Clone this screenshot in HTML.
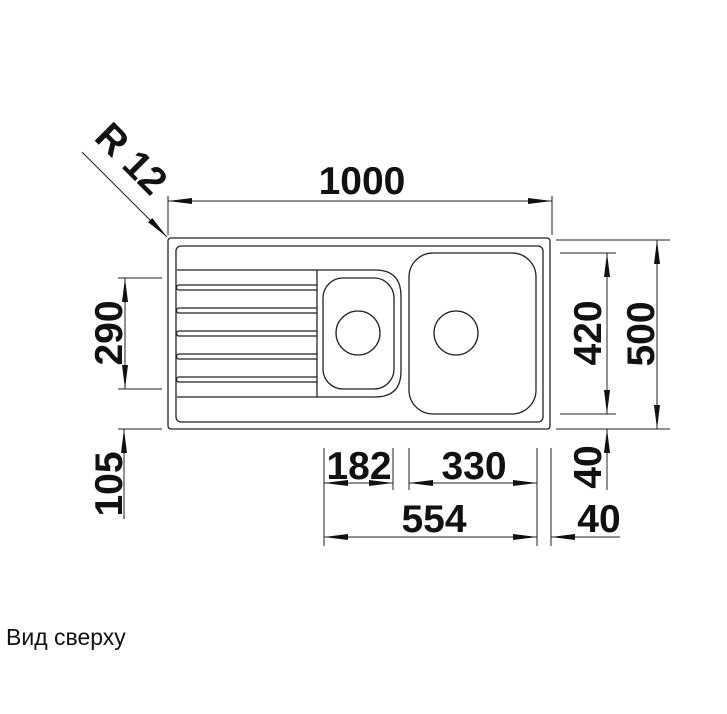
<!DOCTYPE html>
<html><head><meta charset="utf-8"><style>
html,body{margin:0;padding:0;background:#fff;}
svg{display:block;}
text{font-family:"Liberation Sans",sans-serif;}
.d{font-weight:bold;font-size:39px;fill:#111;}
</style></head><body>
<svg width="727" height="714" viewBox="0 0 727 714" xmlns="http://www.w3.org/2000/svg">
<defs>
<marker id="a" viewBox="0 0 24 8" refX="24" refY="4" markerWidth="24" markerHeight="8" markerUnits="userSpaceOnUse" orient="auto-start-reverse">
<path d="M0,1 L24,4 L0,7 z" fill="#111"/></marker>
</defs>
<g fill="none" stroke="#222" stroke-width="1.3">
<rect x="168" y="238" width="382" height="191" rx="3"/>
<rect x="176" y="246" width="367" height="176" rx="5"/>
<path d="M177,270 H375 Q401,270 401,296 V371 Q401,397 375,397 H177"/>
<line x1="317" y1="270" x2="317" y2="397"/>
<rect x="323" y="278" width="71" height="111" rx="20"/>
<circle cx="358" cy="333" r="22"/>
<rect x="409" y="253" width="127" height="161" rx="24"/>
<circle cx="456" cy="333" r="22"/>
<path d="M317,285 H179 a2.5,2.5 0 0 0 0,5 H317"/>
<path d="M317,308 H179 a2.5,2.5 0 0 0 0,5 H317"/>
<path d="M317,331 H179 a2.5,2.5 0 0 0 0,5 H317"/>
<path d="M317,354 H179 a2.5,2.5 0 0 0 0,5 H317"/>
<path d="M317,377 H179 a2.5,2.5 0 0 0 0,5 H317"/>
</g>
<g fill="none" stroke="#222" stroke-width="1">
<line x1="168" y1="196" x2="168" y2="235"/>
<line x1="552" y1="196" x2="552" y2="235"/>
<line x1="168" y1="201" x2="552" y2="201" marker-start="url(#a)" marker-end="url(#a)"/>
<line x1="82" y1="152" x2="167" y2="237" marker-end="url(#a)"/>
<line x1="118" y1="278" x2="162" y2="278"/>
<line x1="118" y1="389" x2="162" y2="389"/>
<line x1="118" y1="429" x2="162" y2="429"/>
<line x1="125" y1="278" x2="125" y2="389" marker-start="url(#a)" marker-end="url(#a)"/>
<line x1="124" y1="519" x2="124" y2="429" marker-end="url(#a)"/>
<line x1="556" y1="240" x2="670" y2="240"/>
<line x1="556" y1="429" x2="670" y2="429"/>
<line x1="560" y1="253" x2="616" y2="253"/>
<line x1="560" y1="414" x2="616" y2="414"/>
<line x1="657" y1="240" x2="657" y2="429" marker-start="url(#a)" marker-end="url(#a)"/>
<line x1="607" y1="253" x2="607" y2="414" marker-start="url(#a)" marker-end="url(#a)"/>
<line x1="607" y1="490" x2="607" y2="429" marker-end="url(#a)"/>
<line x1="324" y1="448" x2="324" y2="546"/>
<line x1="393" y1="448" x2="393" y2="490"/>
<line x1="409" y1="448" x2="409" y2="490"/>
<line x1="537" y1="448" x2="537" y2="546"/>
<line x1="551" y1="448" x2="551" y2="546"/>
<line x1="324" y1="483" x2="393" y2="483" marker-start="url(#a)" marker-end="url(#a)"/>
<line x1="409" y1="483" x2="537" y2="483" marker-start="url(#a)" marker-end="url(#a)"/>
<line x1="324" y1="537" x2="537" y2="537" marker-start="url(#a)" marker-end="url(#a)"/>
<line x1="620" y1="537" x2="551" y2="537" marker-end="url(#a)"/>
</g>
<text class="d" x="362" y="194" text-anchor="middle">1000</text>
<text class="d" transform="translate(122,168) rotate(45)" text-anchor="middle">R 12</text>
<text class="d" transform="translate(122,333) rotate(-90)" text-anchor="middle">290</text>
<text class="d" transform="translate(122,484) rotate(-90)" text-anchor="middle">105</text>
<text class="d" transform="translate(601,333) rotate(-90)" text-anchor="middle">420</text>
<text class="d" transform="translate(654,334) rotate(-90)" text-anchor="middle">500</text>
<text class="d" transform="translate(601,467) rotate(-90)" text-anchor="middle">40</text>
<text class="d" x="359" y="479" text-anchor="middle">182</text>
<text class="d" x="474" y="479" text-anchor="middle">330</text>
<text class="d" x="434" y="532" text-anchor="middle">554</text>
<text class="d" x="599" y="532" text-anchor="middle">40</text>
<text x="6" y="645" font-size="23" fill="#111">Вид сверху</text>
</svg>
</body></html>
